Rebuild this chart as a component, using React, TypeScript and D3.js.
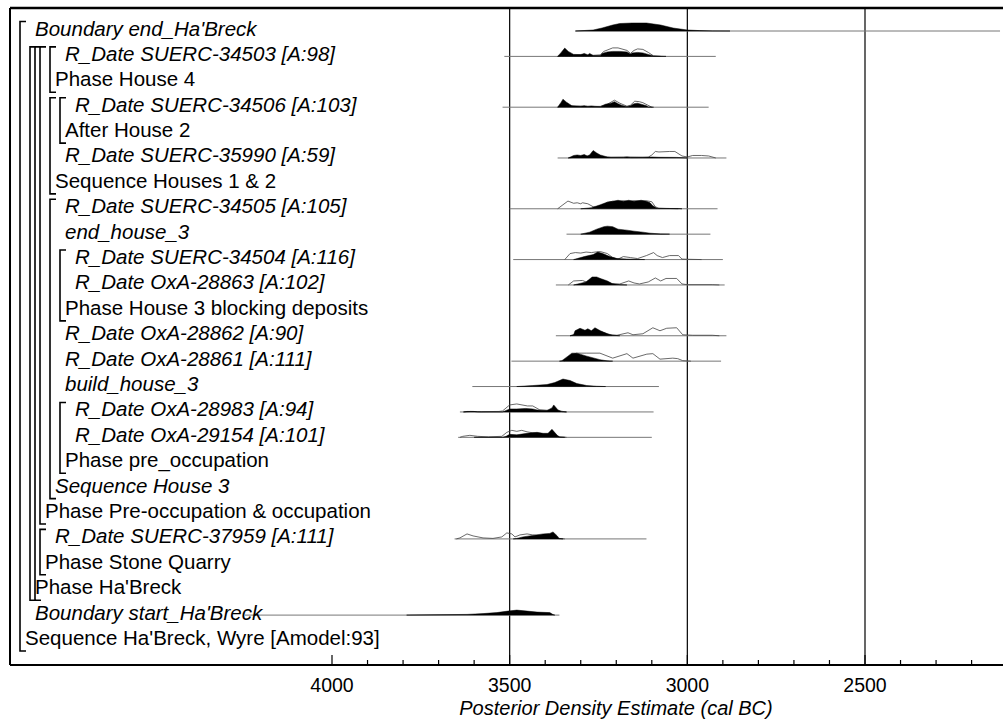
import React from 'react';
import * as d3 from 'd3';

// rows, top to bottom
const rowLabels = [
  "Boundary end_Ha'Breck",
  'R_Date SUERC-34503 [A:98]',
  'Phase House 4',
  'R_Date SUERC-34506 [A:103]',
  'After House 2',
  'R_Date SUERC-35990 [A:59]',
  'Sequence Houses 1 & 2',
  'R_Date SUERC-34505 [A:105]',
  'end_house_3',
  'R_Date SUERC-34504 [A:116]',
  'R_Date OxA-28863 [A:102]',
  'Phase House 3 blocking deposits',
  'R_Date OxA-28862 [A:90]',
  'R_Date OxA-28861 [A:111]',
  'build_house_3',
  'R_Date OxA-28983 [A:94]',
  'R_Date OxA-29154 [A:101]',
  'Phase pre_occupation',
  'Sequence House 3',
  'Phase Pre-occupation & occupation',
  'R_Date SUERC-37959 [A:111]',
  'Phase Stone Quarry',
  "Phase Ha'Breck",
  "Boundary start_Ha'Breck",
  "Sequence Ha'Breck, Wyre [Amodel:93]",
];
const rowDepth = [1, 4, 3, 5, 4, 4, 3, 4, 4, 5, 5, 4, 4, 4, 4, 5, 5, 4, 3, 2, 3, 2, 1, 1, 0];
const rowItalic = [1, 1, 0, 1, 0, 1, 0, 1, 1, 1, 1, 0, 1, 1, 1, 1, 1, 0, 1, 0, 1, 0, 0, 1, 0];

// brackets: level, first row, last row (0-based)
const groups = [
  { level: 0, from: 0, to: 24 },
  { level: 1, from: 1, to: 22 },
  { level: 1.5, from: 1, to: 22 },
  { level: 2, from: 1, to: 19 },
  { level: 3, from: 1, to: 2 },
  { level: 3, from: 3, to: 6 },
  { level: 4, from: 3, to: 4 },
  { level: 3, from: 7, to: 18 },
  { level: 4, from: 9, to: 11 },
  { level: 4, from: 15, to: 17 },
  { level: 2, from: 20, to: 21 },
];

// ranges (cal BC) of the horizontal line under each distribution
const ranges: Record<number, [number, number]> = {
  0: [3315, 2120], 1: [3515, 2920], 3: [3520, 2940], 5: [3365, 2890], 7: [3500, 2915],
  8: [3340, 2935], 9: [3490, 2900], 10: [3370, 2895], 12: [3370, 2890], 13: [3495, 2905],
  14: [3605, 3080], 15: [3640, 3095], 16: [3645, 3100], 20: [3655, 3115], 23: [4245, 3360],
};

// posterior densities [year BC, density]
const postEnd = [[3315, 0], [3265, 1], [3240, 3], [3210, 6], [3190, 7.5], [3155, 8], [3115, 8], [3075, 6], [3040, 3], [3000, 1], [2965, 0.4], [2930, 0.1], [2880, 0]];
const post34503 = [[3365, 0], [3355, 4], [3345, 8.3], [3335, 5], [3320, 2], [3300, 1.8], [3290, 3], [3280, 1.5], [3275, 3], [3265, 1], [3245, 1], [3240, 3], [3225, 4.5], [3210, 5], [3190, 5], [3170, 4.5], [3160, 2.5], [3155, 3.5], [3140, 4], [3125, 3.5], [3110, 2], [3095, 0.5], [3075, 0.2], [3060, 0]];
const post34506 = [[3365, 0], [3355, 5], [3350, 8], [3340, 5], [3325, 1.5], [3300, 1], [3290, 1.5], [3280, 0.8], [3270, 1.2], [3260, 0.8], [3245, 0.5], [3230, 3], [3215, 4], [3205, 5.5], [3195, 3.5], [3185, 2], [3170, 0.5], [3160, 1.5], [3150, 3.5], [3140, 4], [3130, 3], [3115, 1.5], [3110, 0.3], [3095, 0]];
const post35990 = [[3335, 0], [3320, 2.5], [3310, 3], [3300, 2.5], [3290, 3.5], [3282, 2], [3275, 3], [3265, 7.5], [3255, 5], [3245, 3], [3225, 1], [3215, 0.5], [3180, 0.5], [3170, 1], [3160, 0.4], [3125, 0.5], [3100, 1], [3080, 0.7], [3030, 0.6], [3000, 0]];
const post34505 = [[3300, 0], [3270, 1], [3245, 4], [3226, 6.5], [3210, 7.5], [3195, 8.5], [3180, 7.5], [3165, 8.5], [3150, 7.5], [3130, 8.5], [3115, 7.5], [3105, 6], [3097, 3], [3085, 0.5], [3060, 0.3], [3025, 0.3], [3015, 0]];
const postEndHouse3 = [[3300, 0], [3275, 2], [3255, 5], [3235, 7.5], [3225, 8], [3210, 7.5], [3195, 5], [3170, 4], [3150, 3], [3125, 2], [3105, 1], [3075, 0.2], [3050, 0]];
const post34504 = [[3320, 0], [3290, 3], [3265, 5], [3252, 7.5], [3238, 6], [3218, 3], [3198, 1], [3170, 0.5], [3150, 0.3], [3120, 0]];
const post28863 = [[3320, 0], [3285, 3], [3268, 8], [3255, 8], [3245, 6.5], [3225, 4], [3212, 1.5], [3190, 0.3], [3170, 0]];
const post28862 = [[3330, 0], [3320, 1], [3316, 5], [3302, 7.5], [3288, 5.5], [3280, 7], [3270, 5], [3260, 8], [3245, 5], [3225, 2], [3210, 0.5], [3190, 0]];
const post28861 = [[3360, 0], [3353, 0.5], [3336, 5], [3325, 8], [3311, 8], [3283, 5], [3246, 1.5], [3226, 0.3], [3210, 0]];
const postBuildHouse3 = [[3480, 0], [3435, 1], [3395, 2], [3373, 4], [3350, 7.5], [3330, 6], [3311, 3], [3283, 1], [3255, 0.3], [3230, 0]];
const post28983 = [[3630, 0], [3620, 0.5], [3600, 0.5], [3590, 0], [3520, 0], [3500, 3], [3480, 3], [3455, 3.5], [3435, 3], [3423, 2], [3395, 1.5], [3381, 4], [3376, 7], [3364, 2], [3353, 0.3], [3340, 0]];
const post29154 = [[3600, 0], [3520, 0], [3510, 1], [3500, 3], [3480, 2.5], [3451, 4], [3423, 5], [3406, 4], [3392, 4], [3381, 8], [3366, 2], [3359, 0.3], [3345, 0]];
const post37959 = [[3490, 0], [3480, 0.5], [3463, 2], [3435, 3.5], [3406, 5], [3387, 5.5], [3378, 7], [3366, 3], [3361, 0.3], [3350, 0]];
const postStart = [[3790, 0], [3620, 0.7], [3575, 1.5], [3536, 2.5], [3505, 4], [3480, 5], [3451, 4], [3423, 3], [3387, 2.5], [3378, 0.5], [3373, 0]];

// unmodelled (prior) densities
const prior34503 = [[3365, 0], [3345, 2], [3320, 1.5], [3290, 1.5], [3265, 1], [3245, 1.5], [3235, 5], [3210, 8.5], [3195, 8.5], [3170, 6], [3160, 3], [3150, 6], [3140, 7.5], [3125, 7], [3110, 4], [3095, 0.5], [3075, 0]];
const prior34506 = [[3365, 0], [3350, 2], [3320, 1], [3260, 0.8], [3245, 0.8], [3225, 3], [3205, 7], [3190, 4], [3170, 1], [3160, 2], [3148, 6], [3135, 5.5], [3125, 4.5], [3111, 2], [3100, 0]];
const prior35990 = [[3335, 0], [3300, 1.5], [3265, 2], [3230, 0.8], [3170, 1], [3110, 0.8], [3100, 3], [3090, 6.5], [3080, 6], [3050, 6.5], [3035, 6.5], [3015, 2], [3000, 1], [2985, 2.5], [2960, 2.5], [2940, 2], [2920, 0]];
const prior34505 = [[3365, 0], [3350, 4], [3336, 7.7], [3320, 5.5], [3310, 6], [3300, 5], [3295, 6], [3280, 5], [3265, 2], [3250, 1], [3240, 3], [3225, 6.5], [3210, 7.5], [3195, 7], [3180, 8], [3165, 7], [3150, 8], [3130, 7.5], [3115, 8], [3100, 7], [3090, 2], [3080, 0.5], [3050, 0.3], [3025, 0]];
const prior34504 = [[3345, 0], [3330, 6], [3315, 7], [3300, 6.5], [3285, 7.5], [3270, 7], [3260, 7.5], [3245, 8], [3225, 6], [3210, 2], [3195, 0.5], [3180, 3], [3160, 2], [3140, 1], [3115, 4], [3095, 7], [3085, 4], [3070, 2], [3050, 4], [3025, 4], [3015, 0.5], [3000, 0.3], [2960, 0]];
const prior28863 = [[3335, 0], [3320, 4], [3295, 4.5], [3285, 3], [3270, 6], [3245, 6], [3225, 3], [3210, 1], [3190, 1], [3165, 4], [3150, 2], [3135, 1], [3110, 3], [3090, 7], [3075, 4], [3060, 6.5], [3030, 6.5], [3015, 1], [3000, 0.3], [2930, 0.3], [2910, 0]];
const prior28862 = [[3330, 0], [3300, 3], [3260, 5], [3255, 6], [3238, 3.5], [3218, 1], [3198, 0.5], [3167, 3], [3153, 1], [3125, 2], [3097, 8], [3077, 5], [3058, 7.5], [3030, 8], [3013, 1], [2985, 0.5], [2930, 0.5], [2910, 0]];
const prior28861 = [[3345, 0], [3320, 7], [3311, 8], [3283, 8], [3246, 8], [3210, 3], [3170, 7.5], [3153, 3], [3114, 7], [3097, 7.5], [3077, 2], [3041, 3], [3027, 2.5], [3013, 0.5], [2990, 0]];
const prior28983 = [[3630, 0], [3610, 0.5], [3580, 0.3], [3530, 0.5], [3520, 1], [3500, 7], [3480, 8], [3450, 6], [3435, 6], [3415, 2], [3390, 1.5], [3376, 2], [3360, 1], [3340, 0]];
const prior29154 = [[3640, 0], [3632, 1], [3612, 2], [3590, 1], [3560, 0.5], [3522, 1], [3508, 5], [3494, 7], [3480, 6], [3466, 7], [3451, 5.5], [3435, 4.5], [3410, 3], [3381, 2], [3360, 0.5], [3340, 0]];
const prior37959 = [[3650, 0], [3640, 1], [3620, 5], [3603, 3], [3575, 1], [3547, 0.5], [3522, 2], [3508, 6], [3494, 5], [3485, 2], [3471, 4], [3451, 5], [3435, 4], [3406, 3], [3380, 2], [3360, 0.5], [3345, 0]];

const posteriors: Record<number, number[][]> = {
  0: postEnd, 1: post34503, 3: post34506, 5: post35990, 7: post34505, 8: postEndHouse3,
  9: post34504, 10: post28863, 12: post28862, 13: post28861, 14: postBuildHouse3,
  15: post28983, 16: post29154, 20: post37959, 23: postStart,
};
const priors: Record<number, number[][]> = {
  1: prior34503, 3: prior34506, 5: prior35990, 7: prior34505, 9: prior34504,
  10: prior28863, 12: prior28862, 13: prior28861, 15: prior28983, 16: prior29154, 20: prior37959,
};

const majorTicks = [4000, 3500, 3000, 2500];
const gridYears = [3500, 3000, 2500];
const minorTicks = d3.range(4000, 2100, -100);
const axisTitle = 'Posterior Density Estimate (cal BC)';

const FONT = "'Liberation Sans', Arial, Helvetica, sans-serif";

export default function App() {
  const width = 1003;
  const height = 720;
  const left = 10;
  const top = 8;
  const axisY = 665;

  const x = d3.scaleLinear().domain([4000, 2500]).range([332, 865]);
  const rowBase = d3.scaleLinear().domain([0, 24]).range([35.5, 645]);
  const dens = d3.scaleLinear().domain([0, 10]).range([0, 10]);
  const lineY = (i: number) => rowBase(i) - 4.5;
  const bx = (level: number) => 20 + level * 10;

  const area = (i: number) =>
    d3.area<number[]>()
      .x(d => x(d[0]))
      .y0(lineY(i))
      .y1(d => lineY(i) - dens(d[1]));
  const line = (i: number) =>
    d3.line<number[]>()
      .x(d => x(d[0]))
      .y(d => lineY(i) - dens(d[1]));

  return (
    <svg width={width} height={height} style={{ position: 'absolute', left: 0, top: 0, background: '#fff' }}
      fontFamily={FONT}>
      {/* grid lines */}
      {gridYears.map(g => (
        <line key={g} x1={x(g)} x2={x(g)} y1={top} y2={axisY} stroke="#000" strokeWidth={1.2} />
      ))}

      {/* frame */}
      <line x1={left} x2={width} y1={top} y2={top} stroke="#000" strokeWidth={2.5} />
      <line x1={left} x2={left} y1={top} y2={axisY} stroke="#000" strokeWidth={2} />
      <line x1={left} x2={width} y1={axisY} y2={axisY} stroke="#000" strokeWidth={2} />

      {/* axis ticks */}
      {minorTicks.map(t => (
        <line key={t} x1={x(t)} x2={x(t)} y1={axisY} y2={axisY - (t % 500 === 0 ? 10 : 5)}
          stroke="#000" strokeWidth={1.2} />
      ))}
      {majorTicks.map(t => (
        <text key={t} x={x(t)} y={692} textAnchor="middle" fontSize={19.5}>{t}</text>
      ))}
      <text x={616} y={715} textAnchor="middle" fontSize={20} fontStyle="italic">{axisTitle}</text>

      {/* distributions */}
      {rowLabels.map((_, i) => ranges[i] ? (
        <g key={i}>
          <line x1={x(ranges[i][0])} x2={x(ranges[i][1])} y1={lineY(i)} y2={lineY(i)}
            stroke="#777" strokeWidth={1} />
          {priors[i] && (
            <path d={line(i)(priors[i] as any) || ''} fill="none" stroke="#444" strokeWidth={0.8} />
          )}
          <path d={area(i)(posteriors[i] as any) || ''} fill="#000" stroke="#000" strokeWidth={0.5} />
        </g>
      ) : null)}

      {/* brackets */}
      {groups.map((g, k) => {
        const xx = bx(g.level);
        const y0 = rowBase(g.from) - 14;
        const y1 = rowBase(g.to) + 6;
        return (
          <path key={k} d={`M${xx + 6},${y0}H${xx}V${y1}H${xx + 6}`} fill="none" stroke="#000" strokeWidth={1.6} />
        );
      })}

      {/* labels */}
      {rowLabels.map((lab, i) => (
        <text key={i} x={25 + rowDepth[i] * 10} y={rowBase(i)} fontSize={20.5}
          fontStyle={rowItalic[i] ? 'italic' : 'normal'}>{lab}</text>
      ))}
    </svg>
  );
}
